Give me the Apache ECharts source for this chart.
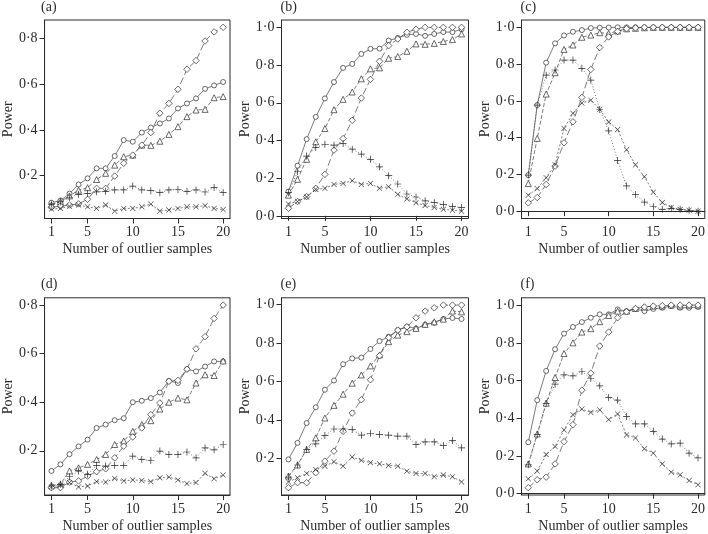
<!DOCTYPE html>
<html>
<head>
<meta charset="utf-8">
<script src="https://cdn.jsdelivr.net/npm/echarts@6/dist/echarts.min.js"></script>
<style>
html,body{margin:0;padding:0;background:#fff;}
#chart{width:708px;height:534px;}
</style>
</head>
<body>
<div id="chart"></div>
<script>
// ---- data ----
const xValues = [1,2,3,4,5,6,7,8,9,10,11,12,13,14,15,16,17,18,19,20];
const xTicks = [1,5,10,15,20];
const panelLabels = ['(a)','(b)','(c)','(d)','(e)','(f)'];
const xTitle = 'Number of outlier samples';
const yTitle = 'Power';

const aCircle   = [0.08,0.09,0.12,0.16,0.187,0.231,0.231,0.285,0.355,0.348,0.388,0.41,0.428,0.45,0.494,0.516,0.538,0.58,0.595,0.61];
const aTriangle = [0.07,0.085,0.11,0.135,0.146,0.182,0.209,0.245,0.282,0.289,0.333,0.332,0.35,0.38,0.414,0.458,0.487,0.49,0.541,0.546];
const aDiamond  = [0.06,0.065,0.07,0.075,0.095,0.143,0.143,0.197,0.253,0.289,0.333,0.388,0.473,0.516,0.578,0.666,0.704,0.79,0.83,0.85];
const aPlus     = [0.074,0.084,0.103,0.117,0.12,0.128,0.13,0.136,0.136,0.153,0.136,0.133,0.124,0.136,0.138,0.13,0.136,0.127,0.147,0.125];
const aCross    = [0.052,0.055,0.065,0.07,0.062,0.055,0.07,0.043,0.055,0.055,0.062,0.074,0.043,0.048,0.055,0.062,0.062,0.067,0.055,0.05];

const bCircle   = [0.129,0.266,0.407,0.525,0.623,0.71,0.785,0.806,0.859,0.886,0.887,0.93,0.944,0.96,0.965,0.955,0.965,0.975,0.975,0.99];
const bTriangle = [0.11,0.194,0.30,0.393,0.463,0.563,0.618,0.657,0.727,0.78,0.785,0.836,0.845,0.873,0.912,0.91,0.915,0.925,0.935,0.965];
const bDiamond  = [0.04,0.076,0.102,0.146,0.22,0.349,0.41,0.507,0.625,0.724,0.82,0.903,0.938,0.974,0.99,1.0,1.0,1.0,1.0,1.0];
const bPlus     = [0.123,0.234,0.317,0.363,0.38,0.375,0.384,0.354,0.327,0.30,0.26,0.213,0.169,0.116,0.10,0.08,0.07,0.06,0.05,0.045];
const bCross    = [0.063,0.076,0.10,0.14,0.146,0.167,0.172,0.187,0.167,0.172,0.146,0.155,0.114,0.09,0.07,0.055,0.045,0.035,0.03,0.025];

const cCircle   = [0.196,0.577,0.808,0.913,0.956,0.976,0.985,0.996,0.998,0.999,1,1,1,1,1,1,1,1,1,1];
const cTriangle = [0.15,0.396,0.637,0.753,0.88,0.904,0.946,0.958,0.971,0.967,0.98,0.992,0.995,0.998,1,1,1,1,1,1];
const cDiamond  = [0.045,0.074,0.145,0.245,0.372,0.486,0.619,0.771,0.89,0.948,0.978,0.993,0.997,1,1,1,1,1,1,1];
const cPlus     = [0.196,0.577,0.74,0.768,0.822,0.822,0.777,0.713,0.553,0.437,0.276,0.137,0.09,0.049,0.024,0.01,0.015,0.01,0.005,0.0];
const cCross    = [0.087,0.123,0.182,0.253,0.45,0.532,0.588,0.604,0.554,0.485,0.444,0.334,0.252,0.187,0.103,0.047,0.02,0.009,0.005,0.0];

const dCircle   = [0.117,0.144,0.186,0.218,0.246,0.294,0.308,0.326,0.334,0.40,0.406,0.417,0.44,0.488,0.479,0.536,0.527,0.547,0.568,0.568];
const dTriangle = [0.058,0.062,0.117,0.13,0.144,0.164,0.185,0.226,0.24,0.28,0.308,0.324,0.372,0.40,0.417,0.41,0.479,0.513,0.51,0.57];
const dDiamond  = [0.048,0.048,0.071,0.076,0.096,0.114,0.126,0.171,0.219,0.257,0.294,0.349,0.397,0.486,0.49,0.536,0.62,0.67,0.745,0.80];
const dPlus     = [0.055,0.062,0.093,0.117,0.103,0.14,0.137,0.14,0.14,0.178,0.164,0.16,0.199,0.185,0.185,0.195,0.171,0.212,0.204,0.226];
const dCross    = [0.051,0.058,0.069,0.051,0.055,0.073,0.071,0.086,0.076,0.08,0.078,0.073,0.089,0.092,0.08,0.065,0.069,0.107,0.085,0.10];

const eCircle   = [0.195,0.281,0.384,0.466,0.557,0.605,0.69,0.72,0.724,0.769,0.81,0.833,0.867,0.885,0.875,0.895,0.905,0.925,0.93,0.925];
const eTriangle = [0.109,0.166,0.247,0.307,0.41,0.476,0.534,0.591,0.634,0.681,0.738,0.807,0.841,0.859,0.876,0.897,0.91,0.924,0.966,0.962];
const eDiamond  = [0.048,0.074,0.074,0.126,0.186,0.238,0.341,0.436,0.505,0.609,0.734,0.828,0.867,0.884,0.931,0.966,0.983,0.997,0.997,0.997];
const ePlus     = [0.103,0.166,0.247,0.276,0.319,0.353,0.353,0.35,0.321,0.331,0.324,0.321,0.316,0.316,0.272,0.286,0.286,0.267,0.293,0.255];
const eCross    = [0.078,0.1,0.122,0.143,0.16,0.183,0.16,0.207,0.19,0.178,0.172,0.164,0.16,0.134,0.122,0.122,0.105,0.114,0.105,0.078];

const fCircle   = [0.273,0.496,0.651,0.766,0.849,0.884,0.91,0.933,0.951,0.951,0.977,0.968,0.98,0.968,0.98,0.986,0.995,0.986,0.986,0.99];
const fTriangle = [0.158,0.317,0.48,0.616,0.743,0.80,0.857,0.875,0.912,0.945,0.968,0.968,0.982,0.99,0.995,0.995,1.0,0.995,1.0,1.0];
const fDiamond  = [0.032,0.074,0.088,0.158,0.276,0.366,0.549,0.639,0.783,0.857,0.933,0.965,0.982,0.99,0.995,0.997,1.0,1.0,1.0,1.0];
const fPlus     = [0.153,0.313,0.479,0.581,0.63,0.625,0.648,0.611,0.572,0.51,0.496,0.41,0.37,0.37,0.331,0.29,0.264,0.268,0.215,0.19];
const fCross    = [0.079,0.12,0.208,0.25,0.338,0.419,0.449,0.431,0.444,0.393,0.423,0.312,0.296,0.238,0.215,0.158,0.114,0.1,0.07,0.048];

const yTicksA = [0.2,0.4,0.6,0.8];
const yTicksFull = [0.0,0.2,0.4,0.6,0.8,1.0];

const panels = [
  {circle:aCircle, triangle:aTriangle, diamond:aDiamond, plus:aPlus, cross:aCross, yTicks:yTicksA},
  {circle:bCircle, triangle:bTriangle, diamond:bDiamond, plus:bPlus, cross:bCross, yTicks:yTicksFull},
  {circle:cCircle, triangle:cTriangle, diamond:cDiamond, plus:cPlus, cross:cCross, yTicks:yTicksFull},
  {circle:dCircle, triangle:dTriangle, diamond:dDiamond, plus:dPlus, cross:dCross, yTicks:yTicksA},
  {circle:eCircle, triangle:eTriangle, diamond:eDiamond, plus:ePlus, cross:eCross, yTicks:yTicksFull},
  {circle:fCircle, triangle:fTriangle, diamond:fDiamond, plus:fPlus, cross:fCross, yTicks:yTicksFull}
];

// ---- layout / style ----
const FONT = '"Liberation Serif","DejaVu Serif",serif';
const INK = '#2b2b2b';
const colLeft = [42, 281.5, 521.5];
const colWidth = [188, 187, 184];
const rowTop = [20, 297.8];
const rowHeight = 198.5;

const PLUS = 'path://M4.5,0H5.5V4.5H10V5.5H5.5V10H4.5V5.5H0V4.5H4.5Z';
const CROSS = 'path://M0,0.7L0.7,0L5,4.3L9.3,0L10,0.7L5.7,5L10,9.3L9.3,10L5,5.7L0.7,10L0,9.3L4.3,5Z';

const seriesDefs = [
  {key:'circle',   symbol:'circle',   size:5,   dash:'solid', filled:false},
  {key:'triangle', symbol:'triangle', size:6,   dash:[4,2],   filled:false},
  {key:'diamond',  symbol:'diamond',  size:6.5, dash:[7,3],   filled:false},
  {key:'plus',     symbol:PLUS,       size:7,   dash:[1,2],   filled:true},
  {key:'cross',    symbol:CROSS,      size:5.5, dash:[2,2],   filled:true}
];

const grids = [], xAxes = [], yAxes = [], series = [], titles = [];
const fmtY = v => v.toFixed(1).replace('.', '\u00b7');

panels.forEach((p, i) => {
  const col = i % 3, row = Math.floor(i / 3);
  grids.push({left: colLeft[col], top: rowTop[row], width: colWidth[col], height: rowHeight,
              containLabel: false, show: true, borderColor: INK, borderWidth: 1, backgroundColor: 'transparent'});
  xAxes.push({
    type: 'value', gridIndex: i, min: 0.24, max: 20.76,
    name: xTitle, nameLocation: 'middle', nameGap: 24,
    nameTextStyle: {fontFamily: FONT, fontSize: 14, color: INK},
    axisLine: {show: true, lineStyle: {color: INK, width: 1}},
    axisTick: {show: true, length: 5, customValues: xTicks, lineStyle: {color: INK}},
    axisLabel: {show: true, customValues: xTicks, margin: 7, fontFamily: FONT, fontSize: 14, color: INK},
    splitLine: {show: false}
  });
  const all = [].concat(p.circle, p.triangle, p.diamond, p.plus, p.cross);
  const lo = Math.min.apply(null, all), hi = Math.max.apply(null, all);
  const pad = 0.04 * (hi - lo);
  yAxes.push({
    type: 'value', gridIndex: i, min: lo - pad, max: hi + pad,
    name: yTitle, nameLocation: 'middle', nameGap: 26, nameRotate: 90,
    nameTextStyle: {fontFamily: FONT, fontSize: 14, color: INK},
    axisLine: {show: true, lineStyle: {color: INK, width: 1}},
    axisTick: {show: true, length: 5, customValues: p.yTicks, lineStyle: {color: INK}},
    axisLabel: {show: true, customValues: p.yTicks, margin: 7, fontFamily: FONT, fontSize: 14, color: INK,
                formatter: fmtY},
    splitLine: {show: false}
  });
  titles.push({text: panelLabels[i], left: colLeft[col] - 1, top: row === 0 ? 0 : 277, padding: 0,
               textStyle: {fontFamily: FONT, fontSize: 14, fontWeight: 'normal', color: INK}});
  seriesDefs.forEach(d => {
    series.push({
      type: 'line', xAxisIndex: i, yAxisIndex: i,
      data: xValues.map((x, k) => [x, p[d.key][k]]),
      symbol: d.symbol, symbolSize: d.size, showSymbol: true, showAllSymbol: true,
      lineStyle: {color: '#444', width: 0.7, type: d.dash},
      itemStyle: d.filled ? {color: INK, borderWidth: 0}
                          : {color: '#fff', borderColor: INK, borderWidth: 0.7},
      emphasis: {disabled: true},
      z: 2, silent: true, animation: false
    });
  });
});

const chart = echarts.init(document.getElementById('chart'), null, {renderer: 'canvas'});
chart.setOption({
  backgroundColor: '#fff',
  animation: false,
  title: titles,
  grid: grids,
  xAxis: xAxes,
  yAxis: yAxes,
  series: series
});
</script>
</body>
</html>
